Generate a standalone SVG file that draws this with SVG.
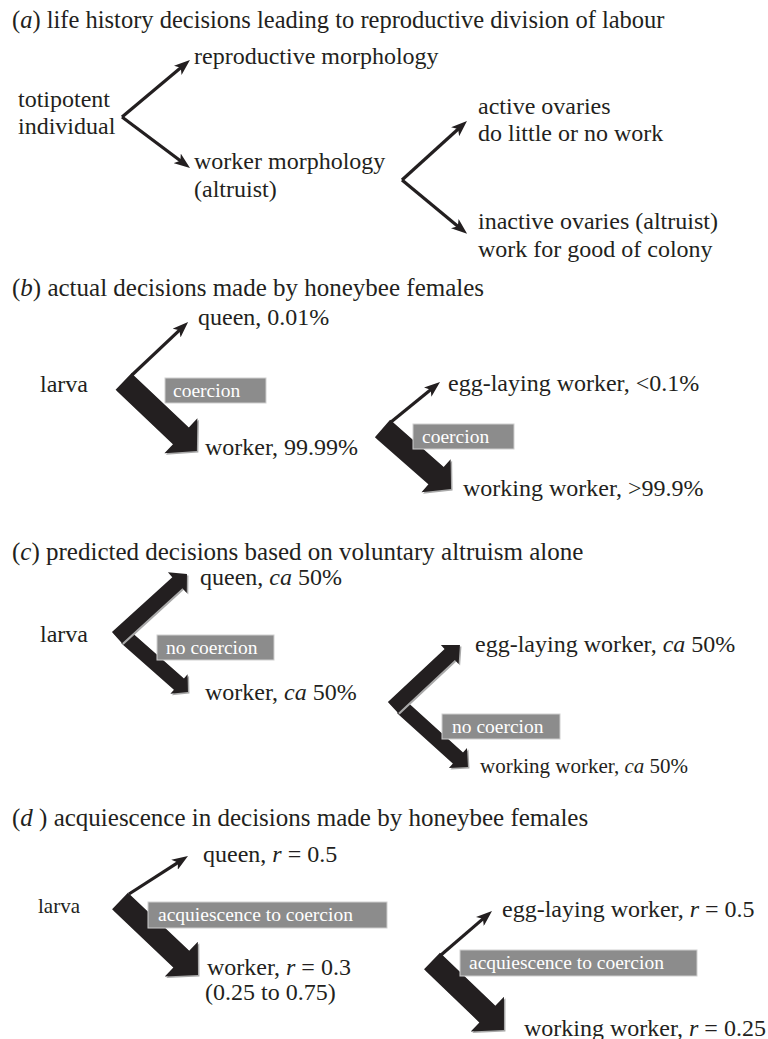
<svg xmlns="http://www.w3.org/2000/svg" xmlns:xlink="http://www.w3.org/1999/xlink" width="768" height="1039" viewBox="0 0 768 1039">
<style>
.t{font-family:"Liberation Serif","Times New Roman","DejaVu Serif",serif;font-size:24px;fill:#231f20}
.ti{font-size:25px}
.sm{font-size:21px}
.lb{font-family:"Liberation Serif","Times New Roman","DejaVu Serif",serif;font-size:19.5px;fill:#ffffff}
.box{fill:#8c8c8c;stroke:#cfcfcf;stroke-width:1}
.fat{fill:#231f20}
.sh{fill:#a9a9a9}
.thin{stroke:#231f20;stroke-width:3.2;fill:none;marker-end:url(#ah)}
.it{font-style:italic}
</style>
<defs>
<marker id="ah" markerUnits="userSpaceOnUse" viewBox="0 0 16 12" markerWidth="16" markerHeight="12" refX="9" refY="6" orient="auto">
<path d="M0,0 L16,6 L0,12 L4,6 Z" fill="#231f20"/>
</marker>
<polygon id="fb1" transform="translate(123.5,381.5) rotate(43.4)" points="0,-11.5 79,-11.5 79,-24 101,0 79,24 79,11.5 0,11.5"/>
<polygon id="fb2" transform="translate(382.5,428.5) rotate(41.4)" points="0,-11.5 71.4,-11.5 71.4,-22 91.4,0 71.4,22 71.4,11.5 0,11.5"/>
<polygon id="fc1u" transform="translate(117,637.6) rotate(-42.3)" points="0,-7.5 81.6,-7.5 81.6,-14 94.6,0 81.6,14 81.6,7.5 0,7.5"/>
<polygon id="fc1d" transform="translate(126,637.4) rotate(41.4)" points="0,-7.5 70.6,-7.5 70.6,-13 82.6,0 70.6,13 70.6,7.5 0,7.5"/>
<polygon id="fc2u" transform="translate(393,707.6) rotate(-43.1)" points="0,-7.5 77.7,-7.5 77.7,-13 91.7,0 77.7,13 77.7,7.5 0,7.5"/>
<polygon id="fc2d" transform="translate(402,707.4) rotate(42.1)" points="0,-7.5 75.4,-7.5 75.4,-13.5 88.9,0 75.4,13.5 75.4,7.5 0,7.5"/>
<polygon id="fd1" transform="translate(120,901) rotate(43.5)" points="0,-11.5 84.5,-11.5 84.5,-24 107.5,0 84.5,24 84.5,11.5 0,11.5"/>
<polygon id="fd2" transform="translate(432,961) rotate(43.8)" points="0,-11.5 76.7,-11.5 76.7,-24 99.7,0 76.7,24 76.7,11.5 0,11.5"/>
</defs>
<rect width="768" height="1039" fill="#ffffff"/>

<g id="connectors">
<path class="thin" d="M122,117 L184.6,64.5"/>
<path class="thin" d="M122,117 L184.4,163.8"/>
<path class="thin" d="M402,180 L461.8,125.7"/>
<path class="thin" d="M402,180 L461.7,229.4"/>

<use xlink:href="#fb1" class="sh" x="1.5" y="1.5"/>
<use xlink:href="#fb1" class="fat"/>
<path class="thin" d="M132,375 L183,326.9"/>
<use xlink:href="#fb2" class="sh" x="1.5" y="1.5"/>
<use xlink:href="#fb2" class="fat"/>
<path class="thin" d="M391,422 L434.6,386.5"/>

<use xlink:href="#fc1d" class="sh" x="1.5" y="1.5"/>
<use xlink:href="#fc1d" class="fat"/>
<use xlink:href="#fc1u" class="sh" x="1.5" y="1.5"/>
<use xlink:href="#fc1u" class="fat"/>
<use xlink:href="#fc2d" class="sh" x="1.5" y="1.5"/>
<use xlink:href="#fc2d" class="fat"/>
<use xlink:href="#fc2u" class="sh" x="1.5" y="1.5"/>
<use xlink:href="#fc2u" class="fat"/>

<use xlink:href="#fd1" class="sh" x="1.5" y="1.5"/>
<use xlink:href="#fd1" class="fat"/>
<path class="thin" d="M129,894 L182.1,859.8"/>
<use xlink:href="#fd2" class="sh" x="1.5" y="1.5"/>
<use xlink:href="#fd2" class="fat"/>
<path class="thin" d="M441,955 L486.7,915.6"/>
</g>

<g id="panel-a">
<text class="t" x="12" y="28" style="font-size:24.5px">(<tspan class="it">a</tspan>) life history decisions leading to reproductive division of labour</text>
<g id="a-totipotent"><text class="t" x="18" y="107">totipotent</text><text class="t" x="18" y="134">individual</text></g>
<g id="a-reproductive"><text class="t" x="194" y="64">reproductive morphology</text></g>
<g id="a-worker"><text class="t" x="194" y="169">worker morphology</text><text class="t" x="194" y="197">(altruist)</text></g>
<g id="a-active"><text class="t" x="478" y="114">active ovaries</text><text class="t" x="478" y="141">do little or no work</text></g>
<g id="a-inactive"><text class="t" x="478" y="229">inactive ovaries (altruist)</text><text class="t" x="478" y="257">work for good of colony</text></g>
</g>

<g id="panel-b">
<text class="t ti" x="12" y="296">(<tspan class="it">b</tspan>) actual decisions made by honeybee females</text>
<g id="b-larva"><text class="t" x="40" y="392">larva</text></g>
<g id="b-queen"><text class="t" x="198" y="325">queen, 0.01%</text></g>
<g id="b-worker"><text class="t" x="205" y="455">worker, 99.99%</text></g>
<g id="b-egg"><text class="t" x="448" y="391">egg-laying worker, &lt;0.1%</text></g>
<g id="b-working"><text class="t" x="463" y="496">working worker, &gt;99.9%</text></g>
<g id="b-coercion1"><rect class="box" x="165" y="378" width="101" height="25"/><text class="lb" x="173" y="397">coercion</text></g>
<g id="b-coercion2"><rect class="box" x="413" y="424" width="101" height="25"/><text class="lb" x="422" y="443">coercion</text></g>
</g>

<g id="panel-c">
<text class="t ti" x="12" y="560">(<tspan class="it">c</tspan>) predicted decisions based on voluntary altruism alone</text>
<g id="c-larva"><text class="t" x="40" y="642">larva</text></g>
<g id="c-queen"><text class="t" x="200" y="585">queen, <tspan class="it">ca</tspan> 50%</text></g>
<g id="c-worker"><text class="t" x="205" y="700">worker, <tspan class="it">ca</tspan> 50%</text></g>
<g id="c-egg"><text class="t" x="475" y="652">egg-laying worker, <tspan class="it">ca</tspan> 50%</text></g>
<g id="c-working"><text class="t sm" x="480" y="773">working worker, <tspan class="it">ca</tspan> 50%</text></g>
<g id="c-nocoercion1"><rect class="box" x="157" y="635" width="117" height="25"/><text class="lb" x="166" y="654">no coercion</text></g>
<g id="c-nocoercion2"><rect class="box" x="442" y="714" width="118" height="25"/><text class="lb" x="452" y="733">no coercion</text></g>
</g>

<g id="panel-d">
<text class="t ti" x="12" y="826">(<tspan class="it">d</tspan> ) acquiescence in decisions made by honeybee females</text>
<g id="d-larva"><text class="t sm" x="38" y="913">larva</text></g>
<g id="d-queen"><text class="t" x="203" y="862">queen, <tspan class="it">r</tspan> = 0.5</text></g>
<g id="d-worker"><text class="t" x="207" y="975">worker, <tspan class="it">r</tspan> = 0.3</text><text class="t" x="205" y="1000">(0.25 to 0.75)</text></g>
<g id="d-egg"><text class="t" x="502" y="917">egg-laying worker, <tspan class="it">r</tspan> = 0.5</text></g>
<g id="d-working"><text class="t" x="524" y="1036">working worker, <tspan class="it">r</tspan> = 0.25</text></g>
<g id="d-acq1"><rect class="box" x="148" y="902" width="239" height="26"/><text class="lb" x="158" y="921">acquiescence to coercion</text></g>
<g id="d-acq2"><rect class="box" x="460" y="950" width="237" height="26"/><text class="lb" x="469" y="969">acquiescence to coercion</text></g>
</g>
</svg>
